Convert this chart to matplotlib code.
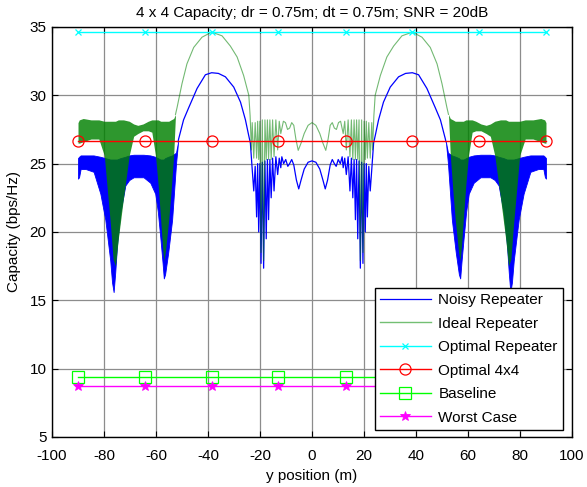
import numpy as np
import matplotlib
matplotlib.use("Agg")
import matplotlib.pyplot as plt

plt.rcParams['font.family'] = ['Liberation Sans', 'DejaVu Sans']
plt.rcParams['axes.unicode_minus'] = False

# ---- data (right half, curves are symmetric about y = 0) ----
noisy_x = [0, 1.5, 3.0, 4.2, 5.1, 6.0, 7.0, 7.8, 8.6, 9.3, 10.1, 10.9, 11.6, 12.0, 12.6,
           13.2, 13.9, 14.6, 15.15, 15.7, 16.2, 16.7, 17.15, 17.6, 18.1, 18.6, 19.1, 19.6,
           20.05, 20.5, 20.9, 21.3, 21.85, 22.4, 23.0, 23.7, 24.5, 25.6, 27.5, 30.1, 33.3,
           36.0, 38.6, 41.0, 44.2, 47.4, 49.4, 51.3, 51.5]
noisy_y = [25.2, 25.1, 24.6, 23.8, 23.15, 23.8, 24.9, 25.3, 25.0, 24.8, 25.3, 25.0, 25.5, 24.7,
           25.4, 24.2, 25.5, 23.0, 25.4, 22.5, 25.3, 20.9, 25.3, 19.5, 25.2, 17.35, 25.1, 17.7,
           25.0, 20.0, 25.0, 21.1, 24.8, 23.0, 24.6, 26.5, 27.2, 28.2, 29.5, 30.6, 31.35, 31.6,
           31.65, 31.5, 30.5, 29.1, 28.2, 26.8, 26.6]

ideal_x = [0, 1.5, 3.0, 4.2, 5.3, 6.2, 7.0, 7.8, 8.6, 9.4, 10.2, 11.0, 12.0, 12.6, 13.2, 13.9,
           14.6, 15.15, 15.7, 16.2, 16.7, 17.15, 17.6, 18.1, 18.6, 19.1, 19.6, 20.05, 20.5,
           20.9, 21.3, 21.85, 22.4, 23.0, 23.3, 23.8, 24.3, 26.3, 28.8, 31.4, 34.6, 38.6,
           42.3, 45.5, 48.1, 50.0, 51.9, 52.5]
ideal_y = [28.0, 27.8, 27.2, 26.5, 25.97, 26.8, 27.8, 28.0, 27.6, 27.5, 28.0, 28.1, 27.2, 28.1,
           26.0, 28.2, 25.5, 28.2, 25.3, 28.2, 25.3, 28.2, 25.3, 28.2, 17.9, 28.2, 18.5, 28.1,
           25.3, 28.1, 25.4, 28.0, 25.4, 28.0, 26.0, 28.5, 30.0, 31.45, 32.8, 33.6, 34.35,
           34.62, 34.25, 33.5, 32.3, 30.85, 29.1, 28.6]

# dense-oscillation bands (envelopes) for |y| > ~52 m
noisy_band_x = [51.5, 52.3, 53.8, 55.3, 56.5, 57.0, 57.5, 58.3, 59.3, 60.3, 62.2, 64.8, 68.6,
                70.3, 71.8, 73.7, 75.0, 75.7, 76.3, 76.9, 77.6, 79.5, 81.4, 84.0, 87.0, 89.0,
                89.6, 90.0]
noisy_band_lo = [26.6, 25.0, 20.9, 18.5, 16.9, 16.6, 17.8, 19.5, 21.5, 22.8, 23.6, 24.0, 24.0,
                 23.8, 23.4, 21.4, 19.0, 17.0, 15.6, 16.3, 17.9, 20.9, 22.8, 24.4, 24.6, 24.6,
                 24.0, 23.9]
noisy_band_hi = [26.6, 25.8, 25.6, 25.5, 25.4, 25.3, 25.3, 25.3, 25.4, 25.5, 25.6, 25.65, 25.65,
                 25.6, 25.5, 25.4, 25.3, 25.3, 25.3, 25.3, 25.3, 25.4, 25.5, 25.6, 25.6, 25.6,
                 25.5, 25.4]

ideal_band_x = [52.5, 53.2, 54.2, 55.1, 56.4, 57.0, 57.5, 58.2, 59.2, 60.2, 61.6, 63.0, 65.0,
                67.0, 68.6, 70.3, 72.5, 74.5, 75.6, 76.5, 77.5, 79.9, 82.0, 85.0, 88.0, 89.5, 90.0]
ideal_band_lo = [28.6, 25.6, 23.0, 20.9, 18.5, 17.9, 19.0, 20.9, 23.5, 25.6, 27.3, 27.4, 27.4,
                 27.2, 27.0, 25.6, 22.5, 19.5, 17.5, 18.0, 20.5, 25.6, 26.8, 26.8, 26.6, 26.5, 26.5]
ideal_band_hi = [28.6, 28.3, 28.2, 28.1, 28.1, 28.1, 28.1, 28.1, 28.2, 28.2, 28.2, 28.1, 27.9,
                 27.8, 27.9, 28.1, 28.2, 28.2, 28.1, 28.1, 28.1, 28.1, 28.2, 28.2, 28.3, 28.2, 28.0]

marker_x = [-90, -64.3, -38.6, -12.9, 12.9, 38.6, 64.3, 90]
optimal_repeater = [34.65] * 8
optimal_4x4 = [26.65] * 8
baseline = [9.4] * 8
worst_case = [8.7] * 8

labels = ['Noisy Repeater', 'Ideal Repeater', 'Optimal Repeater', 'Optimal 4x4',
          'Baseline', 'Worst Case']
title = '4 x 4 Capacity; dr = 0.75m; dt = 0.75m; SNR = 20dB'


def mirror_line(x, y):
    x = np.asarray(x, float)
    y = np.asarray(y, float)
    return np.concatenate([-x[::-1], x[1:]]), np.concatenate([y[::-1], y[1:]])


fig = plt.figure(figsize=(5.87, 4.87), dpi=100)
ax = fig.add_axes([0.0886, 0.1027, 0.8858, 0.842])

blue = (0, 0, 1)
dgreen = (0, 0.5, 0)

# Noisy repeater
nx, ny = mirror_line(noisy_x, noisy_y)
bx = np.asarray(noisy_band_x)
for s in (1, -1):
    ax.fill_between(s * bx, noisy_band_lo, noisy_band_hi, color=blue, lw=0.6,
                    edgecolor=blue, zorder=2)
ln_noisy, = ax.plot(nx, ny, color=blue, lw=0.9, zorder=2, label=labels[0])

# Ideal repeater
gx_, gy_ = mirror_line(ideal_x, ideal_y)
gbx = np.asarray(ideal_band_x)
for s in (1, -1):
    ax.fill_between(s * gbx, ideal_band_lo, ideal_band_hi, color=dgreen, alpha=0.82,
                    lw=0, zorder=3)
ln_ideal, = ax.plot(gx_, gy_, color=dgreen, lw=0.8, alpha=0.55, zorder=3)
ln_ideal_leg, = ax.plot([], [], color=(0.45, 0.75, 0.45), lw=1.0, label=labels[1])

ax.plot(marker_x, optimal_repeater, color=(0, 1, 1), marker='x', ms=5, mew=0.9, lw=1,
        zorder=4, label=labels[2])
ax.plot(marker_x, optimal_4x4, color='red', marker='o', ms=8, mfc='none', mew=0.9, lw=1,
        zorder=4, label=labels[3])
ax.plot(marker_x, baseline, color=(0, 1, 0), marker='s', ms=8, mfc='none', mew=0.9, lw=1,
        zorder=4, label=labels[4])
ax.plot(marker_x, worst_case, color=(1, 0, 1), marker='*', ms=7, mew=0.6, lw=1,
        zorder=4, label=labels[5])

ax.set_xlim(-100, 100)
ax.set_ylim(5, 35)
ax.set_xticks(np.arange(-100, 101, 20))
ax.set_yticks(np.arange(5, 36, 5))
ax.grid(True, color=(0.55, 0.55, 0.55), lw=0.9, zorder=0)
ax.set_axisbelow(True)
ax.tick_params(direction='in', top=True, right=True, length=4, width=0.8,
               labelsize=11, colors='black')
ax.tick_params(axis='x', pad=9)
ax.tick_params(axis='y', pad=4)
for sp in ax.spines.values():
    sp.set_linewidth(1.0)
    sp.set_color('black')
ax.set_xlabel('y position (m)', fontsize=11, labelpad=4)
ax.set_ylabel('Capacity (bps/Hz)', fontsize=11, labelpad=6)
ax.set_title(title, fontsize=11, pad=7)

hs, ls = ax.get_legend_handles_labels()
leg = ax.legend(hs, ls, loc='lower left', bbox_to_anchor=(0.621, 0.017), fontsize=11,
                frameon=True, fancybox=False, edgecolor='black', framealpha=1,
                handlelength=3.3, labelspacing=0.62, borderpad=0.35, handletextpad=0.5,
                numpoints=1, borderaxespad=0)
leg.get_frame().set_linewidth(1.0)
leg.set_zorder(10)

fig.savefig('out.png', dpi=100)
